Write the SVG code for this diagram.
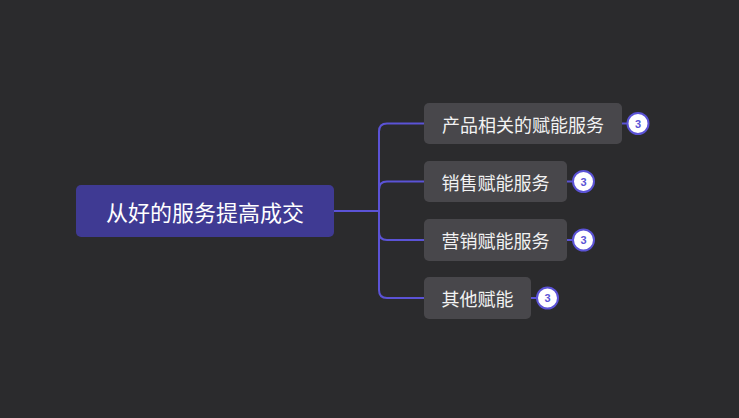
<svg xmlns="http://www.w3.org/2000/svg" width="739" height="418" viewBox="0 0 739 418">
<style>
.bg{fill:#2b2b2d}
.conn{fill:none;stroke:#5b53d6;stroke-width:2}
.root{fill:#3f3a93}
.node{fill:#48474b}
.rt{font-family:"Noto Sans CJK SC","Noto Sans",sans-serif;font-size:22px;fill:#ffffff;text-anchor:middle;dominant-baseline:central}
.nt{font-family:"Noto Sans CJK SC","Noto Sans",sans-serif;font-size:18px;fill:#f2f2f2;text-anchor:middle;dominant-baseline:central}
.badge{fill:#ffffff;stroke:#5b53d6;stroke-width:2}
.bt{font-family:"Liberation Sans",Arial,sans-serif;font-size:11px;font-weight:bold;fill:#5b53d6;text-anchor:middle;dominant-baseline:central}
</style>
<rect class="bg" x="0" y="0" width="739" height="418"/>
<g id="connectors">
<path class="conn" d="M334 211 H379"/>
<path class="conn" d="M379 211 V131.5 Q379 123.5 387 123.5 H424"/>
<path class="conn" d="M379 211 V189.5 Q379 181.5 387 181.5 H424"/>
<path class="conn" d="M379 211 V232 Q379 240 387 240 H424"/>
<path class="conn" d="M379 211 V290 Q379 298 387 298 H424"/>
<path class="conn" d="M622 123.5 H628"/>
<path class="conn" d="M567 181.5 H573"/>
<path class="conn" d="M567 240 H573"/>
<path class="conn" d="M531 298 H537"/>
</g>
<g id="root">
<rect class="root" x="76" y="185" width="258" height="52" rx="5"/>
<text class="rt" x="205" y="211">从好的服务提高成交</text>
</g>
<g id="n1">
<rect class="node" x="424" y="103" width="198" height="41" rx="5"/>
<text class="nt" x="523" y="123.5">产品相关的赋能服务</text>
<circle class="badge" cx="638" cy="123.5" r="10.5"/>
<text class="bt" x="638" y="123.5">3</text>
</g>
<g id="n2">
<rect class="node" x="424" y="161" width="143" height="41" rx="5"/>
<text class="nt" x="495.5" y="181.5">销售赋能服务</text>
<circle class="badge" cx="583.5" cy="181.5" r="10.5"/>
<text class="bt" x="583.5" y="181.5">3</text>
</g>
<g id="n3">
<rect class="node" x="424" y="219" width="143" height="42" rx="5"/>
<text class="nt" x="495.5" y="240">营销赋能服务</text>
<circle class="badge" cx="583.5" cy="240" r="10.5"/>
<text class="bt" x="583.5" y="240">3</text>
</g>
<g id="n4">
<rect class="node" x="424" y="277" width="107" height="42" rx="5"/>
<text class="nt" x="477.5" y="298">其他赋能</text>
<circle class="badge" cx="547.5" cy="298" r="10.5"/>
<text class="bt" x="547.5" y="298">3</text>
</g>
</svg>
